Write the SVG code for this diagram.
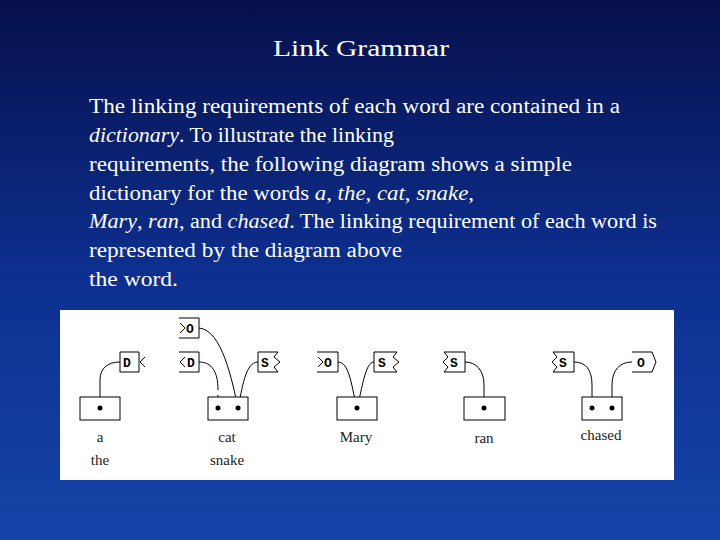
<svg xmlns="http://www.w3.org/2000/svg" width="720" height="540" viewBox="0 0 720 540">
<defs>
<linearGradient id="bg" x1="0" y1="0" x2="0" y2="1">
<stop offset="0" stop-color="#06104a"/><stop offset="0.5" stop-color="#0d2f8f"/><stop offset="1" stop-color="#1444a8"/>
</linearGradient>
<style>
.t{font-family:"Liberation Serif",serif;fill:#fff}
.b{fill:#fff;stroke:#000;stroke-width:1}
.c{fill:none;stroke:#000;stroke-width:1}
.m{font-family:"Liberation Mono",monospace;font-size:13px;font-weight:bold;fill:#000}
.w{font-family:"Liberation Serif",serif;font-size:15px;fill:#222;text-anchor:middle}
</style>
</defs>
<rect width="720" height="540" fill="url(#bg)"/>
<text class="t" x="273" y="56" font-size="23" textLength="176" lengthAdjust="spacingAndGlyphs">Link Grammar</text>
<g class="t" font-size="20">
<text x="89" y="113" textLength="531" lengthAdjust="spacingAndGlyphs">The linking requirements of each word are contained in a</text>
<text x="89" y="142" textLength="305" lengthAdjust="spacingAndGlyphs"><tspan font-style="italic">dictionary</tspan>. To illustrate the linking</text>
<text x="89" y="171" textLength="483" lengthAdjust="spacingAndGlyphs">requirements, the following diagram shows a simple</text>
<text x="89" y="200" textLength="385" lengthAdjust="spacingAndGlyphs">dictionary for the words <tspan font-style="italic">a</tspan>, <tspan font-style="italic">the</tspan>, <tspan font-style="italic">cat</tspan>, <tspan font-style="italic">snake</tspan>,</text>
<text x="89" y="228" textLength="568" lengthAdjust="spacingAndGlyphs"><tspan font-style="italic">Mary</tspan>, <tspan font-style="italic">ran</tspan>, and <tspan font-style="italic">chased</tspan>. The linking requirement of each word is</text>
<text x="89" y="257" textLength="313" lengthAdjust="spacingAndGlyphs">represented by the diagram above</text>
<text x="89" y="286" textLength="89" lengthAdjust="spacingAndGlyphs">the word.</text>
</g>
<rect x="60" y="310" width="614" height="170" fill="#fff"/>
<g id="connectors">
<path class="c" d="M100 408 V380 C100 368 108 362 120 362"/>
<path class="c" d="M238 408 C232 380 222 330 199 328"/>
<path class="c" d="M218 408 V395 M218 390 C218 372 212 362 199 362"/>
<path class="c" d="M238 408 C242 390 245 362 258 362"/>
<path class="c" d="M357 408 C352 390 350 362 338 362"/>
<path class="c" d="M357 408 C362 390 365 362 374 362"/>
<path class="c" d="M484 408 V385 C484 370 476 362 465 362"/>
<path class="c" d="M592 408 V385 C592 370 586 362 574 362"/>
<path class="c" d="M612 408 V385 C612 370 620 362 632 362"/>
</g>
<g id="a">
<path class="c" d="M120 352 H139 V372 H120 Z M145 357 L140 362 L145 367"/>
<text class="m" x="123" y="367">D</text>
<rect class="b" x="80" y="397" width="40" height="23"/><circle cx="100" cy="408" r="2.5"/>
<text class="w" x="100" y="442">a</text><text class="w" x="100" y="465">the</text>
</g>
<g id="cat">
<path class="c" d="M179 318 H199 V338 H179 M180 323 L185 328 L180 333"/>
<text class="m" x="186" y="333">O</text>
<path class="c" d="M179 352 H199 V372 H179 M185 357 L180 362 L185 367"/>
<text class="m" x="187" y="367">D</text>
<path class="c" d="M258 352 H278 L274 357 L280 362 L274 367 L278 372 H258 Z"/>
<text class="m" x="261" y="367">S</text>
<rect class="b" x="208" y="397" width="40" height="23"/><circle cx="218" cy="408" r="2.5"/><circle cx="238" cy="408" r="2.5"/>
<text class="w" x="227" y="442">cat</text><text class="w" x="227" y="465">snake</text>
</g>
<g id="mary">
<path class="c" d="M317 352 H338 V372 H317 M318 357 L323 362 L318 367"/>
<text class="m" x="324" y="367">O</text>
<path class="c" d="M374 352 H397 L393 357 L399 362 L393 367 L397 372 H374 Z"/>
<text class="m" x="378" y="367">S</text>
<rect class="b" x="337" y="397" width="40" height="23"/><circle cx="357" cy="408" r="2.5"/>
<text class="w" x="356" y="442">Mary</text>
</g>
<g id="ran">
<path class="c" d="M465 352 H444 L448 357 L443 362 L448 367 L444 372 H465 Z"/>
<text class="m" x="450" y="367">S</text>
<rect class="b" x="464" y="397" width="41" height="23"/><circle cx="484" cy="408" r="2.5"/>
<text class="w" x="484" y="443">ran</text>
</g>
<g id="chased">
<path class="c" d="M574 352 H553 L557 357 L552 362 L557 367 L553 372 H574 Z"/>
<text class="m" x="559" y="367">S</text>
<path class="c" d="M632 352 H652 L656 362 L652 372 H632"/>
<text class="m" x="637" y="367">O</text>
<rect class="b" x="582" y="397" width="40" height="23"/><circle cx="592" cy="408" r="2.5"/><circle cx="612" cy="408" r="2.5"/>
<text class="w" x="601" y="440">chased</text>
</g>
</svg>
